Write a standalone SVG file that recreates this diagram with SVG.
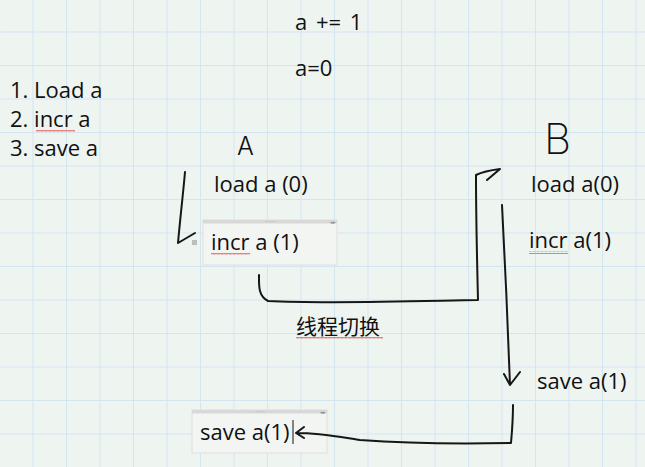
<svg xmlns="http://www.w3.org/2000/svg" width="645" height="467" viewBox="0 0 645 467">
<defs>
<pattern id="grid" patternUnits="userSpaceOnUse" x="32.5" y="31.5" width="33.5" height="33.5">
<path d="M0.5 0V33.5M0 0.5H33.5" stroke="#d3e6f0" stroke-width="1" fill="none"/>
</pattern>
<pattern id="squig" patternUnits="userSpaceOnUse" width="4" height="3">
<path d="M0 2.5L1 1L2 2.5L3 1L4 2.5" stroke="#e0504a" stroke-width="0.8" fill="none"/>
</pattern>
</defs>
<style>
.t{font-family:"Open Sans","Noto Sans","Noto Sans CJK SC",sans-serif;font-size:22px;fill:#111}
.cjk{font-family:"Noto Sans CJK SC","Noto Sans",sans-serif;font-size:21px;fill:#111}
.hand{font-family:"Inter","DejaVu Sans",sans-serif;font-weight:300;fill:#111}
.ink{fill:none;stroke:#161616;stroke-width:2;stroke-linecap:round;stroke-linejoin:round}
.boxbar{fill:#d8d8d8}
.box{fill:#f3f5f3;stroke:#dedede;stroke-width:1}
.sq{fill:url(#squig)}
.dots{font-family:"Liberation Sans",sans-serif;fill:#888}
</style>
<rect width="645" height="467" fill="#eef4f0"/>
<rect width="645" height="467" fill="url(#grid)"/>

<g id="header">
<text class="t" x="295" y="30" word-spacing="3">a += 1</text>
<text class="t" x="295" y="76">a=0</text>
</g>
<g id="steps">
<text class="t" x="10" y="98">1. Load a</text>
<text class="t" x="10" y="127">2. incr a</text>
<rect class="sq" x="36" y="130" width="39" height="3"/>
<text class="t" x="10" y="156">3. save a</text>
</g>

<g id="labelA"><text class="hand" x="237" y="155" style="font-size:25px">A</text></g>
<g id="labelB"><text class="hand" x="544" y="154" style="font-size:42px;font-weight:200">B</text></g>

<g id="A-load"><text class="t" x="214" y="192">load a (0)</text></g>

<g id="A-incr">
<rect class="box" x="203" y="220" width="134" height="45"/>
<rect class="boxbar" x="203" y="220" width="134" height="3.5"/>
<text class="dots" x="270" y="223" font-size="6" text-anchor="middle">·····</text>
<text class="dots" x="333" y="223.5" font-size="5" text-anchor="middle">◂▸</text>
<rect x="192" y="240" width="5" height="5" fill="#bdbdbd"/>
<text class="t" x="211" y="250">incr a (1)</text>
<rect class="sq" x="211" y="252" width="39" height="3"/>
</g>

<g id="switch">
<text class="cjk" x="296" y="334">线程切换</text>
<rect class="sq" x="296" y="336" width="87" height="3"/>
</g>

<g id="B-load"><text class="t" x="531" y="192">load a(0)</text></g>
<g id="B-incr">
<text class="t" x="529" y="248">incr a(1)</text>
<rect class="sq" x="529" y="251" width="39" height="3"/>
</g>
<g id="B-save"><text class="t" x="537" y="389">save a(1)</text></g>

<g id="A-save">
<rect class="box" x="192" y="410" width="135" height="43"/>
<rect class="boxbar" x="192" y="410" width="135" height="3.5"/>
<text class="dots" x="260" y="413" font-size="6" text-anchor="middle">·····</text>
<text class="dots" x="323" y="413.5" font-size="5" text-anchor="middle">◂▸</text>
<text class="t" x="200" y="440">save a(1)</text>
<path d="M293 420V444" stroke="#111" stroke-width="1"/>
</g>

<g id="connectors">
<path class="ink" d="M185 172C183 195 180 220 178 243L195 233"/>
<path class="ink" d="M259 275C259 285 258 296 268 301C330 304 420 301 478 300C477 260 476 215 476 175C484 171 492 170 500 169L487 180"/>
<path class="ink" d="M502 205C505 260 508 330 510 385M504 374L510 385L520 372"/>
<path class="ink" d="M513 405C513 420 512 432 511 443C460 444 400 443 360 440C340 437 320 433 297 433M304 427L296 433L304 438"/>
</g>
</svg>
